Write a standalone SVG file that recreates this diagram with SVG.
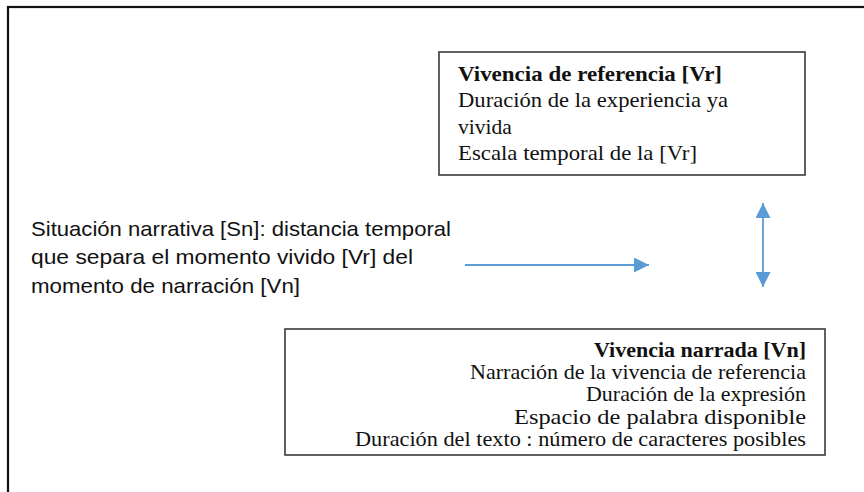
<svg xmlns="http://www.w3.org/2000/svg" width="864" height="492" viewBox="0 0 864 492">
<style>
.frame{fill:none;stroke:#111;stroke-width:2.2}
.box{fill:#fff;stroke:#3a3a3a;stroke-width:1.6}
.serif{font-family:"Liberation Serif","Times New Roman",serif;fill:#111}
.b{font-weight:bold}
.sans{font-family:"Liberation Sans",Arial,sans-serif;font-size:21px;fill:#111}
.conn{stroke:#5B9BD5;stroke-width:1.8;fill:none}
</style>
<defs>
<marker id="ah" viewBox="0 0 10 10" refX="10" refY="5" markerWidth="16" markerHeight="15" markerUnits="userSpaceOnUse" orient="auto-start-reverse">
<path d="M0,0 L10,5 L0,10 Z" fill="#5B9BD5"/>
</marker>
</defs>
<rect width="864" height="492" fill="#fff"/>
<rect class="frame" x="8" y="7" width="870" height="500"/>
<g id="vr">
<rect class="box" x="439" y="52" width="366" height="123"/>
<text class="serif b" x="458" y="81" font-size="21.5" textLength="264" lengthAdjust="spacingAndGlyphs">Vivencia de referencia [Vr]</text>
<text class="serif" x="458" y="107" font-size="21.5" textLength="270" lengthAdjust="spacingAndGlyphs">Duración de la experiencia ya</text>
<text class="serif" x="458" y="134" font-size="21.5">vivida</text>
<text class="serif" x="458" y="160" font-size="21.5" textLength="239" lengthAdjust="spacingAndGlyphs">Escala temporal de la [Vr]</text>
</g>
<g id="sn">
<text class="sans" x="31" y="236" textLength="420" lengthAdjust="spacingAndGlyphs">Situación narrativa [Sn]: distancia temporal</text>
<text class="sans" x="31" y="264" textLength="382" lengthAdjust="spacingAndGlyphs">que separa el momento vivido [Vr] del</text>
<text class="sans" x="31" y="293" textLength="269" lengthAdjust="spacingAndGlyphs">momento de narración [Vn]</text>
</g>
<g id="vn">
<rect class="box" x="285" y="329" width="540" height="126"/>
<g class="serif" font-size="21.5" text-anchor="end">
<text class="b" x="806" y="357" textLength="212" lengthAdjust="spacingAndGlyphs">Vivencia narrada [Vn]</text>
<text x="806" y="379" textLength="336" lengthAdjust="spacingAndGlyphs">Narración de la vivencia de referencia</text>
<text x="806" y="401" textLength="220" lengthAdjust="spacingAndGlyphs">Duración de la expresión</text>
<text x="806" y="424" textLength="292" lengthAdjust="spacingAndGlyphs">Espacio de palabra disponible</text>
<text x="806" y="446" textLength="451" lengthAdjust="spacingAndGlyphs">Duración del texto : número de caracteres posibles</text>
</g>
</g>
<g id="connectors">
<line class="conn" x1="465" y1="265" x2="649" y2="265" marker-end="url(#ah)"/>
<line class="conn" x1="763" y1="203" x2="763" y2="287" marker-start="url(#ah)" marker-end="url(#ah)"/>
</g>
</svg>
